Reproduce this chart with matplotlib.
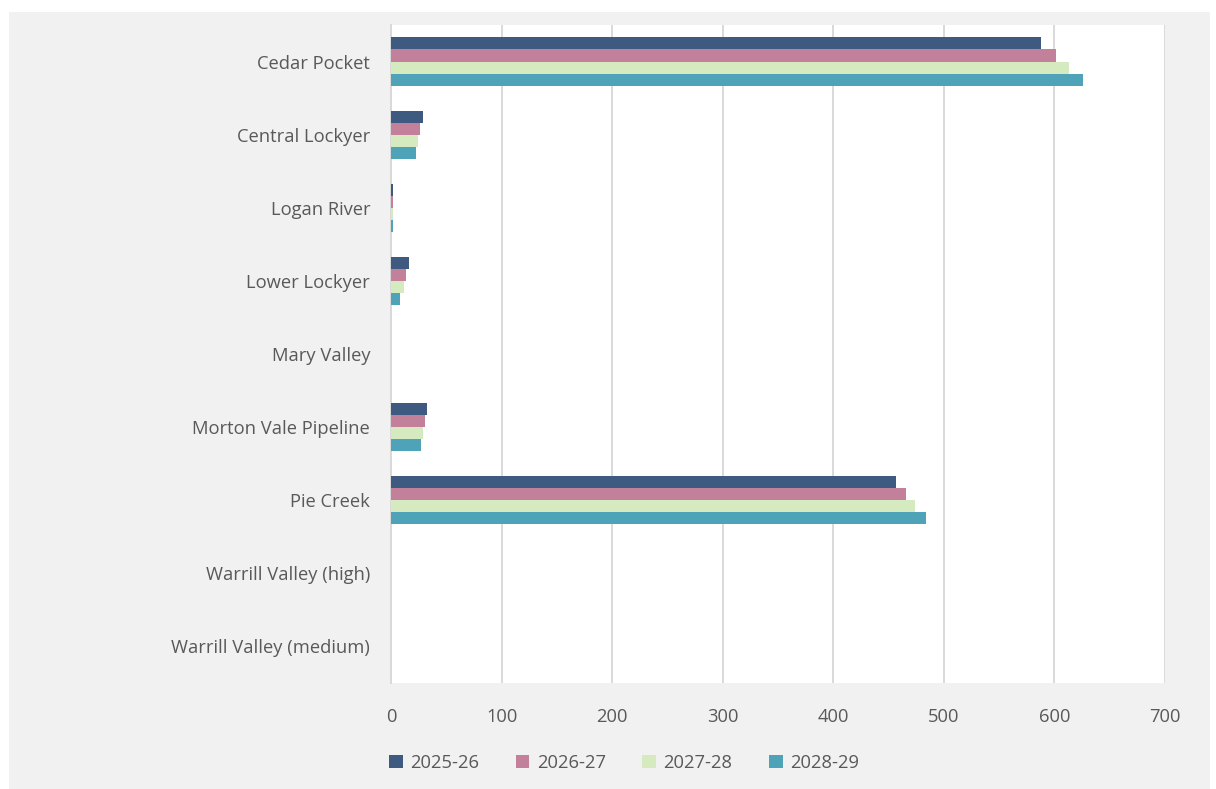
import numpy as np
import matplotlib.pyplot as plt
from matplotlib.patches import Rectangle

schemes = ['Cedar Pocket', 'Central Lockyer', 'Logan River', 'Lower Lockyer',
           'Mary Valley', 'Morton Vale Pipeline', 'Pie Creek',
           'Warrill Valley (high)', 'Warrill Valley (medium)']
years = ['2025-26', '2026-27', '2027-28', '2028-29']
v_2025 = [588, 29, 2, 16, 0, 33, 457, 0, 0]
v_2026 = [601, 26, 1.5, 13.5, 0, 31, 466, 0, 0]
v_2027 = [613, 24.5, 1.5, 12, 0, 29, 474, 0, 0]
v_2028 = [626, 23, 1.5, 8, 0, 27, 484, 0, 0]
colors = ['#3f5a80', '#c2809a', '#d6eac0', '#4ea3b8']

series = [v_2025, v_2026, v_2027, v_2028]
txt = '#595959'
plt.rcParams['font.family'] = ['Open Sans', 'DejaVu Sans']

fig = plt.figure(figsize=(12.16, 7.89), dpi=100, facecolor='white')
fig.patches.append(Rectangle((9 / 1216, 0), 1201 / 1216, 1 - 12 / 789,
                             transform=fig.transFigure, facecolor='#f1f1f1',
                             edgecolor='none', zorder=-10))

ax = fig.add_axes([391 / 1216, 1 - 683 / 789, 774 / 1216, 658 / 789])
ax.set_facecolor('white')

y = np.arange(len(schemes))
h = 0.165
for i, (vals, c, lab) in enumerate(zip(series, colors, years)):
    ax.barh(y - 1.5 * h + i * h, vals, height=h, color=c, label=lab,
            linewidth=0, zorder=3)

ax.set_ylim(len(schemes) - 0.5, -0.5)
ax.set_xlim(0, 700)
ax.set_xticks(range(0, 701, 100))
ax.set_yticks(y)
ax.set_yticklabels(schemes)
ax.tick_params(axis='both', length=0, labelsize=13.2, colors=txt)
ax.tick_params(axis='y', pad=15)
ax.tick_params(axis='x', pad=18)
ax.grid(axis='x', color='#d9d9d9', linewidth=1.4, zorder=0)
for s in ['top', 'right', 'bottom']:
    ax.spines[s].set_visible(False)
ax.spines['left'].set_color('#d9d9d9')
ax.spines['left'].set_linewidth(1.4)

ax.legend(loc='center', bbox_to_anchor=(624 / 1216, 1 - 763 / 789),
          bbox_transform=fig.transFigure, ncol=4, frameon=False,
          fontsize=13.2, labelcolor=txt, handlelength=0.75, handleheight=0.75,
          handletextpad=0.4, columnspacing=2.0)

fig.savefig('out.png', dpi=100, facecolor=fig.get_facecolor())
